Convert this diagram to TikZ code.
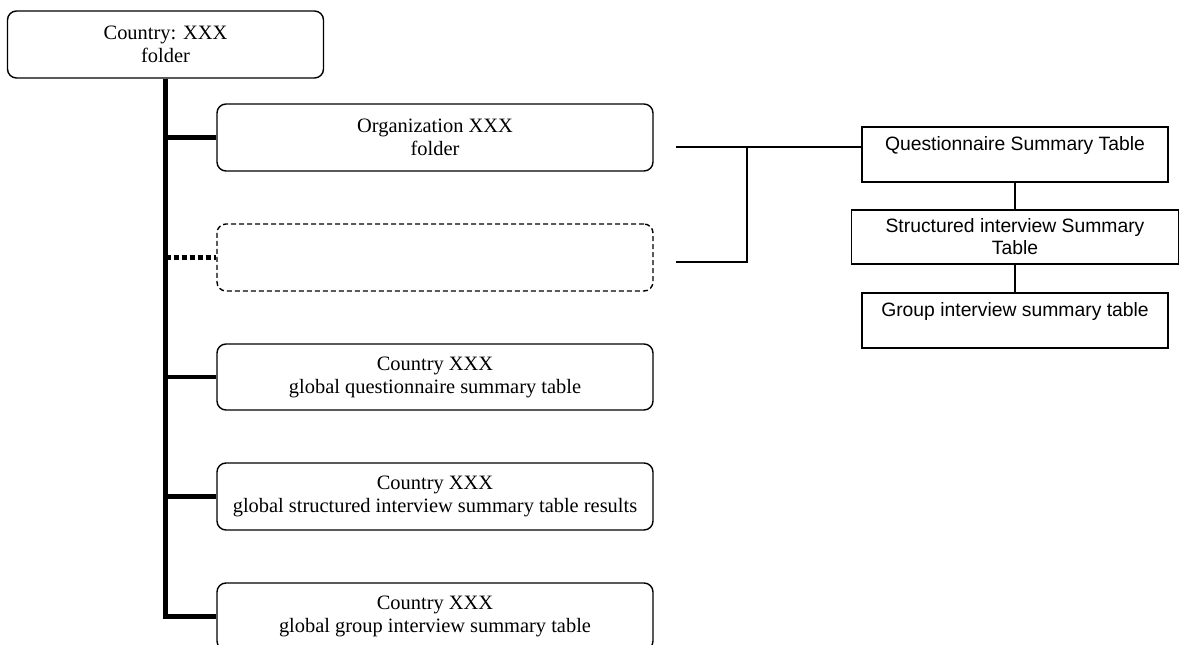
\documentclass[tikz,border=0pt]{standalone}
\usepackage{fontspec}
\setmainfont{Liberation Serif}
\newfontfamily\arialf{Liberation Sans}
\begin{document}
\begin{tikzpicture}[x=1bp,y=-1bp,
  folder/.style={draw, line width=1.4bp, rounded corners=9bp, minimum width=436bp, minimum height=67bp, align=center, inner sep=0pt, font=\fontsize{20.5}{23}\selectfont},
  dashbox/.style={folder, dash pattern=on 5bp off 3bp},
  tablebox/.style={draw, line width=1.8bp, minimum width=306bp, minimum height=55bp, align=center, inner sep=0pt, font=\arialf\fontsize{19.4}{22}\selectfont},
  trunk/.style={line width=4.2bp, line join=miter},
  branch/.style={line width=4.2bp},
  dotbranch/.style={line width=4.2bp, dash pattern=on 5bp off 3bp},
  thin/.style={line width=1.5bp},
  vlink/.style={line width=2bp}
]
\useasboundingbox (0,0) rectangle (1199,645);
\clip (0,0) rectangle (1199,645);

\node[folder, minimum width=316bp] (country) at (165.5,44.5) {Country: XXX\\folder};
\node[folder] (org) at (435,137.5) {Organization XXX\\folder};
\node[dashbox] (dash) at (435,257.5) {};
\node[folder, minimum height=66bp] (b3) at (435,377) {Country XXX\\global questionnaire summary table};
\node[folder] (b4) at (435,496.5) {Country XXX\\global structured interview summary table results};
\node[folder] (b5) at (435,616.5) {Country XXX\\global group interview summary table};

\node[tablebox] (Q) at (1015,154.5) {Questionnaire Summary Table\\\mbox{}};
\node[tablebox, minimum width=327bp, minimum height=54bp] (S) at (1015,237) {Structured interview Summary\\Table};
\node[tablebox] (G) at (1015,320.5) {Group interview summary table\\\mbox{}};

% trunk and branches
\draw[trunk] (country.south) -- (country.south |- b5.west) -- (b5.west);
\draw[branch] (country.south |- org.west) -- (org.west);
\draw[dotbranch] (country.south |- dash.west) -- (dash.west);
\draw[branch] (country.south |- b3.west) -- (b3.west);
\draw[branch] (country.south |- b4.west) -- (b4.west);

% right connectors
\coordinate (j1) at (676,147);
\coordinate (j2) at (676,262);
\coordinate (jx) at (747,147);
\draw[thin] (j1) -- (j1 -| Q.west);
\draw[thin] (j2) -- (j2 -| jx) -- (jx);
\draw[vlink] (Q.south) -- (S.north);
\draw[vlink] (S.south) -- (G.north);
\end{tikzpicture}
\end{document}
